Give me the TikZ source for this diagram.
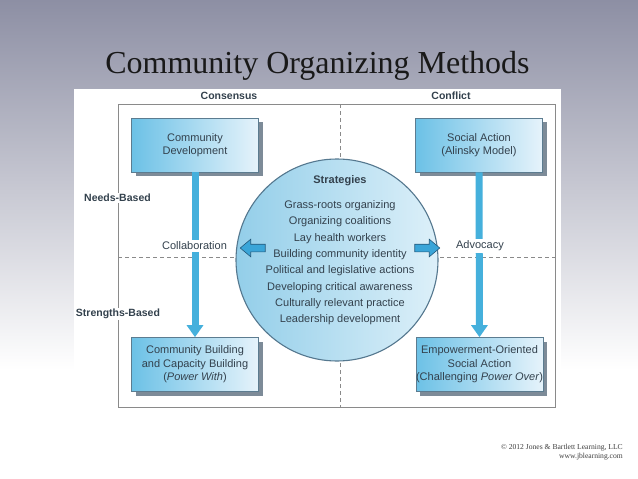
\documentclass[tikz,border=0pt]{standalone}
\usepackage{fontspec}
\setmainfont{Liberation Serif}
\newfontfamily\diagfont{Liberation Sans}
\usetikzlibrary{shapes.geometric,shapes.arrows,shadows,arrows.meta}
\definecolor{bgtop}{HTML}{8D8FA4}
\definecolor{frameg}{HTML}{8A8A8A}
\definecolor{boxleft}{HTML}{6CC1E6}
\definecolor{boxright}{HTML}{E6F3FB}
\definecolor{boxedge}{HTML}{5C7C90}
\definecolor{shadowc}{HTML}{7D8B98}
\definecolor{txtc}{HTML}{33414D}
\definecolor{arrowc}{HTML}{45B0DC}
\definecolor{smallarrow}{HTML}{3AA5D8}
\definecolor{smallarrowedge}{HTML}{24587A}
\definecolor{circleft}{HTML}{93CEE9}
\definecolor{circright}{HTML}{DDF0F9}
\definecolor{circedge}{HTML}{55788F}
\tikzset{
  methodbox/.style={draw=boxedge, line width=0.6pt, left color=boxleft, right color=boxright,
    minimum width=127pt, minimum height=54pt, inner sep=0pt, align=center, text=txtc,
    font=\diagfont\fontsize{11}{13.5}\selectfont,
    drop shadow={shadow xshift=4pt, shadow yshift=-4pt, fill=shadowc, opacity=1}},
  headlabel/.style={font=\diagfont\bfseries\fontsize{10.5}{12}\selectfont, text=txtc, inner sep=1pt},
  sidelabel/.style={font=\diagfont\bfseries\fontsize{10.5}{12}\selectfont, text=txtc, fill=white, inner sep=1.5pt},
  midlabel/.style={font=\diagfont\fontsize{11}{13}\selectfont, text=txtc, fill=white, inner sep=1.5pt},
  flowarrow/.style={draw=arrowc, line width=7pt, -{Triangle[width=16pt,length=12pt]}},
  sidearrow/.style={shape=single arrow, fill=smallarrow, draw=smallarrowedge, line width=0.6pt,
    minimum height=25pt, inner sep=3.5pt, single arrow head extend=5pt, single arrow tip angle=80},
  gridline/.style={draw=frameg, dashed, line width=0.6pt, dash pattern=on 4pt off 3pt}
}
\begin{document}
\begin{tikzpicture}[x=1pt,y=-1pt]
\useasboundingbox (0,0) rectangle (638,479);
% background
\shade[top color=bgtop, bottom color=white] (0,0) rectangle (638,370);
\fill[white] (0,369) rectangle (638,479);
% title
\node[anchor=base, font=\fontsize{32}{36}\selectfont, text=black!90] (title) at (317.5,73) {Community Organizing Methods};
% panel
\fill[white] (74,89) rectangle (561,410);
\draw[frameg, line width=0.6pt] (118,104) rectangle (555,407);
\coordinate (vtop) at (340,104);
\coordinate (vbot) at (340,407);
\coordinate (hleft) at (118,257);
\coordinate (hright) at (555,257);
\draw[gridline] (vtop) -- (vbot);
\draw[gridline] (hleft) -- (hright);
% headers
\node[headlabel] (cons) at (229,96) {Consensus};
\node[headlabel] (conf) at (451,96) {Conflict};
% circle
\node[shape=circle, draw=circedge, line width=1.1pt, left color=circleft, right color=circright,
  minimum size=202pt, inner sep=0pt] (circ) at (337,260) {};
\node[anchor=north, align=center, inner sep=0pt, text=txtc,
  font=\diagfont\fontsize{11}{16.3}\selectfont] (strat) at (340,175.5)
  {\textbf{Strategies}\\[8.7pt]
   Grass-roots organizing\\
   Organizing coalitions\\
   Lay health workers\\
   Building community identity\\
   Political and legislative actions\\
   Developing critical awareness\\
   Culturally relevant practice\\
   Leadership development};
% boxes
\node[methodbox] (b1) at (195,145) {Community\\Development};
\node[methodbox] (b2) at (479,145) {Social Action\\(Alinsky Model)};
\node[methodbox] (b3) at (195,364.5) {Community Building\\and Capacity Building\\(\textit{Power With})};
\node[methodbox] (b4) at (479.5,364.5) {Empowerment-Oriented\\Social Action\\(Challenging \textit{Power Over})};
% vertical arrows
\draw[flowarrow] (b1.south) -- (b3.north);
\draw[flowarrow] (b2.south) -- (b4.north);
% labels
\node[midlabel] (collab) at (194.5,246) {Collaboration};
\node[midlabel] (advoc) at (480,246) {Advocacy};
\node[sidelabel] (needs) at (117.5,198) {Needs-Based};
\node[sidelabel] (streng) at (118,314) {Strengths-Based};
% side arrows
\node[sidearrow, shape border rotate=180] (la) at (255,248) {};
\node[sidearrow] (ra) at (425,248) {};
% copyright
\node[anchor=base east, align=right, inner sep=0pt, text=black!75,
  font=\fontsize{7.6}{9}\selectfont] (copy) at (623,458)
  {\textcopyright\ 2012 Jones \& Bartlett Learning, LLC\\www.jblearning.com};
\end{tikzpicture}
\end{document}
